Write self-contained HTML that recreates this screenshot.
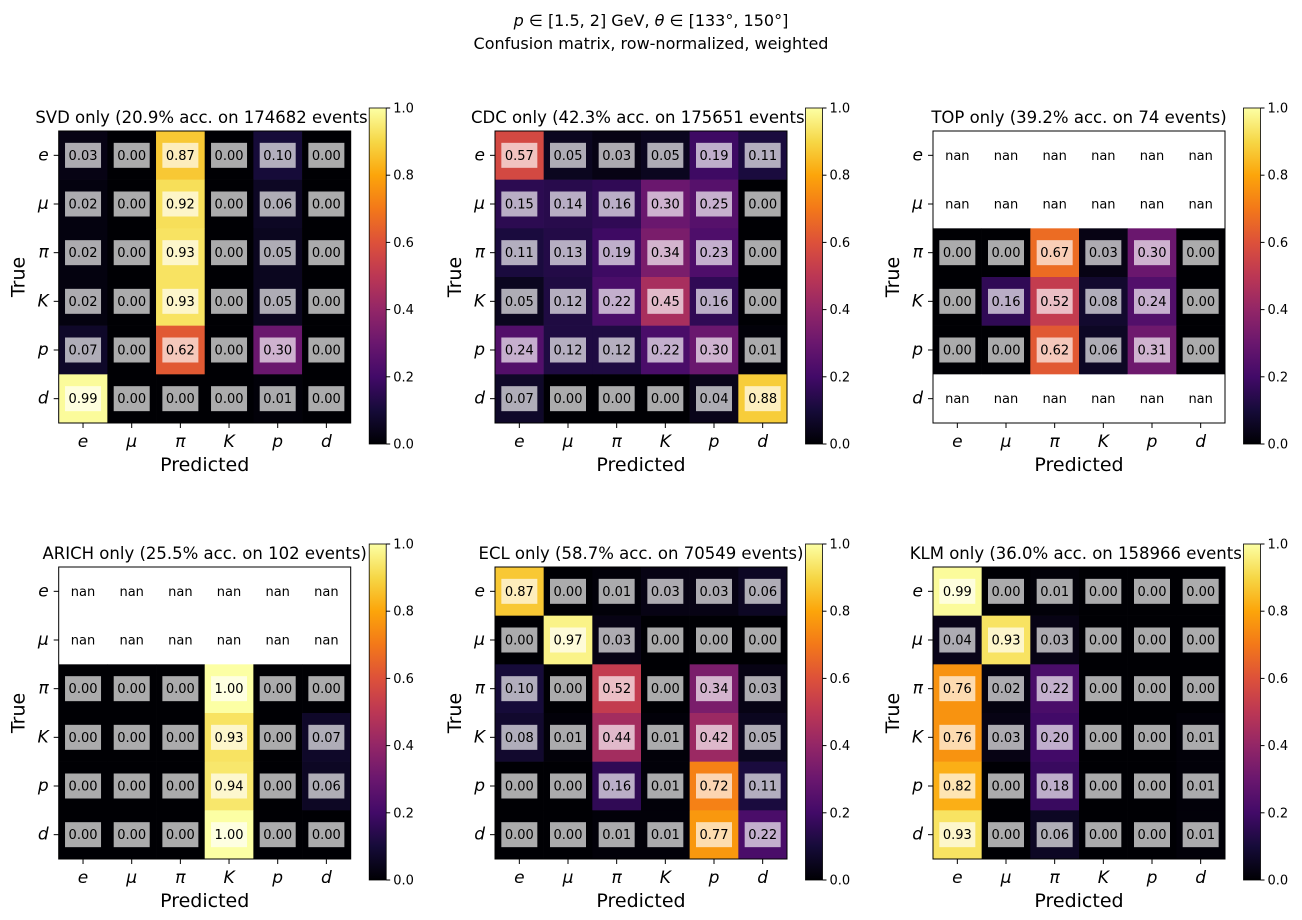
<!DOCTYPE html>
<html><head><meta charset="utf-8"><style>
html,body{margin:0;padding:0;background:#fff}
svg{display:block;font-family:"DejaVu Sans","Liberation Sans",sans-serif}
</style></head><body>
<svg id="fig" width="1302" height="920" viewBox="0 0 1302 920" xmlns="http://www.w3.org/2000/svg">
<defs>
<linearGradient id="inferno" x1="0" y1="1" x2="0" y2="0">
<stop offset="0" stop-color="#000004"/><stop offset="0.1" stop-color="#160b39"/><stop offset="0.2" stop-color="#420a68"/><stop offset="0.3" stop-color="#6a176e"/><stop offset="0.4" stop-color="#932667"/><stop offset="0.5" stop-color="#bc3754"/><stop offset="0.6" stop-color="#dd513a"/><stop offset="0.7" stop-color="#f37819"/><stop offset="0.8" stop-color="#fca50a"/><stop offset="0.9" stop-color="#f6d746"/><stop offset="1" stop-color="#fcffa4"/>
</linearGradient>
</defs>
<text x="651" y="26" text-anchor="middle" font-size="16"><tspan font-style="italic">p</tspan> ∈ [1.5, 2] GeV, <tspan font-style="italic">θ</tspan> ∈ [133°, 150°]</text>
<text x="651" y="49" text-anchor="middle" font-size="16">Confusion matrix, row-normalized, weighted</text>
</svg>
<script>
const classes = ["e","μ","π","K","p","d"];
const titles = [
 "SVD only (20.9% acc. on 174682 events)",
 "CDC only (42.3% acc. on 175651 events)",
 "TOP only (39.2% acc. on 74 events)",
 "ARICH only (25.5% acc. on 102 events)",
 "ECL only (58.7% acc. on 70549 events)",
 "KLM only (36.0% acc. on 158966 events)"
];
const N = null;
const svdVals = [[0.03,0,0.87,0,0.10,0],[0.02,0,0.92,0,0.06,0],[0.02,0,0.93,0,0.05,0],[0.02,0,0.93,0,0.05,0],[0.07,0,0.62,0,0.30,0],[0.99,0,0,0,0.01,0]];
const cdcVals = [[0.57,0.05,0.03,0.05,0.19,0.11],[0.15,0.14,0.16,0.30,0.25,0],[0.11,0.13,0.19,0.34,0.23,0],[0.05,0.12,0.22,0.45,0.16,0],[0.24,0.12,0.12,0.22,0.30,0.01],[0.07,0,0,0,0.04,0.88]];
const topVals = [[N,N,N,N,N,N],[N,N,N,N,N,N],[0,0,0.67,0.03,0.30,0],[0,0.16,0.52,0.08,0.24,0],[0,0,0.62,0.06,0.31,0],[N,N,N,N,N,N]];
const arichVals = [[N,N,N,N,N,N],[N,N,N,N,N,N],[0,0,0,1.00,0,0],[0,0,0,0.93,0,0.07],[0,0,0,0.94,0,0.06],[0,0,0,1.00,0,0]];
const eclVals = [[0.87,0,0.01,0.03,0.03,0.06],[0,0.97,0.03,0,0,0],[0.10,0,0.52,0,0.34,0.03],[0.08,0.01,0.44,0.01,0.42,0.05],[0,0,0.16,0.01,0.72,0.11],[0,0,0.01,0.01,0.77,0.22]];
const klmVals = [[0.99,0,0.01,0,0,0],[0.04,0.93,0.03,0,0,0],[0.76,0.02,0.22,0,0,0],[0.76,0.03,0.20,0,0,0.01],[0.82,0,0.18,0,0,0.01],[0.93,0,0.06,0,0,0.01]];
const matrices = [svdVals,cdcVals,topVals,arichVals,eclVals,klmVals];
const cbTicks = [0,0.2,0.4,0.6,0.8,1.0];
const cbTickLabels = ["0.0","0.2","0.4","0.6","0.8","1.0"];

const stops = [[0,0,4],[22,11,57],[66,10,104],[106,23,110],[147,38,103],[188,55,84],[221,81,58],[243,120,25],[252,165,10],[246,215,70],[252,255,164]];
function inferno(v){
  v=Math.max(0,Math.min(1,v)); const t=v*10, i=Math.min(9,Math.floor(t)), f=t-i;
  const a=stops[i], b=stops[i+1];
  return `rgb(${a.map((c,k)=>Math.round(c+(b[k]-c)*f)).join(',')})`;
}
const NS="http://www.w3.org/2000/svg";
const fig=document.getElementById('fig');
function mk(tag,attrs,parent,text){const e=document.createElementNS(NS,tag);for(const k in attrs)e.setAttribute(k,attrs[k]);if(text!=null)e.textContent=text;(parent||fig).appendChild(e);return e;}

const lefts=[58.7,495,933], tops=[131,567], W=292, H=292;
matrices.forEach((M,pi)=>{
  const L=lefts[pi%3], T=tops[Math.floor(pi/3)];
  const g=mk('g',{});
  
  
  const cw=W/classes.length, ch=H/classes.length;
  const xs=j=>L+j*cw, ys=i=>T+i*ch;
  const t=mk('text',{x:L+W/2,y:T-8,'text-anchor':'middle','font-size':16.5},g,titles[pi]);
  
  
  M.forEach((row,i)=>row.forEach((v,j)=>{
    const r=mk('rect',{x:xs(j),y:ys(i),width:cw+0.3,height:ch+0.3,fill:v==null?'#fff':inferno(v)},g);
    
    
    const cx=xs(j)+cw/2, cy=ys(i)+ch/2;
    if(v!=null){
      const b=mk('rect',{x:cx-18,y:cy-12.5,width:36,height:25,fill:'#fff','fill-opacity':0.67},g);
      
      
    }
    const tx=mk('text',{x:cx,y:cy+4.5,'text-anchor':'middle','font-size':13},g,v==null?'nan':v.toFixed(2));
    
    
  }));
  mk('rect',{x:L,y:T,width:W,height:H,fill:'none',stroke:'#000','stroke-width':1},g);
  classes.forEach((c,k)=>{
    const x=xs(k)+cw/2, y=ys(k)+ch/2;
    mk('line',{x1:x,x2:x,y1:T+H,y2:T+H+5,stroke:'#000'},g);
    mk('line',{x1:L-5,x2:L,y1:y,y2:y,stroke:'#000'},g);
    const xl=mk('text',{x:x,y:T+H+24,'text-anchor':'middle','font-size':17,'font-style':'italic'},g,c);
    
    
    const yl=mk('text',{x:L-10,y:y+5,'text-anchor':'end','font-size':17,'font-style':'italic'},g,c);
    
    
  });
  const xa=mk('text',{x:L+W/2,y:T+H+48,'text-anchor':'middle','font-size':19},g,'Predicted');
  
  
  const yx=L-34, yy=T+H/2;
  const ya=mk('text',{x:yx,y:yy,'text-anchor':'middle','font-size':19,transform:`rotate(-90 ${yx} ${yy})`},g,'True');
  
  
  const cx0=L+310.5, cy0=T-23, cbH=336, cbW=17;
  const cb=mk('rect',{x:cx0,y:cy0,width:cbW,height:cbH,fill:'url(#inferno)',stroke:'#000','stroke-width':0.8},g);
  
  
  cbTicks.forEach((v,k)=>{
    const y=cy0+cbH-v*cbH;
    mk('line',{x1:cx0+cbW,x2:cx0+cbW+4,y1:y,y2:y,stroke:'#000'},g);
    const tl=mk('text',{x:cx0+cbW+7,y:y+4.5,'font-size':13},g,cbTickLabels[k]);
    
    
  });
});
</script>
</body></html>
